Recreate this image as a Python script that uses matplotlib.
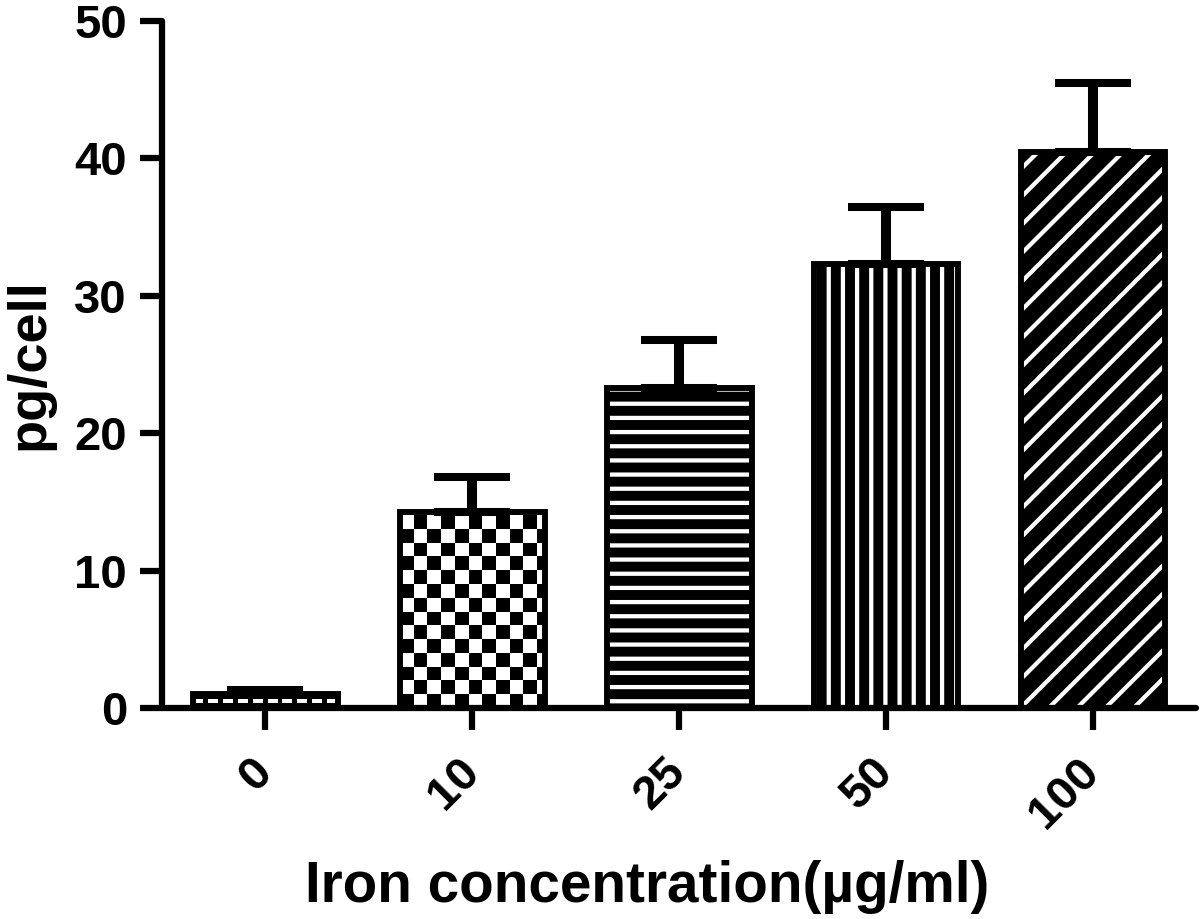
"""
Iron uptake per cell at increasing iron concentrations (bar chart with SEM).
"""

import numpy as np
import matplotlib.pyplot as plt

# Data
concentrations = ["0", "10", "25", "50", "100"]
pg_per_cell = [1.0, 14.3, 23.3, 32.3, 40.5]
sem_upper = [0.3, 2.5, 3.5, 4.2, 5.0]
y_ticks = [0, 10, 20, 30, 40, 50]

# Fill pattern for every bar ("checker" and "dashes" are drawn as images)
hatches = ["dashes", "checker", "-", "|", "/"]

DPI = 85
plt.rcParams["font.family"] = ["Liberation Sans", "DejaVu Sans"]
plt.rcParams["font.weight"] = "bold"
plt.rcParams["hatch.linewidth"] = 3.6

fig = plt.figure(figsize=(1200 / DPI, 919 / DPI), dpi=DPI)
ax = fig.add_axes([0.135, 0.2296, 0.862, 0.7475])

x = np.arange(len(concentrations))
width = 0.7

# Black bars with white hatch lines (hatch takes the edge colour)
bars = ax.bar(x, pg_per_cell, width=width, color="black", edgecolor="white",
              linewidth=0, zorder=2)

for bar, hatch in zip(bars, hatches):
    x0, w, h = bar.get_x(), bar.get_width(), bar.get_height()
    if hatch == "checker":
        # black/white squares
        cell_w, cell_h = 0.0662, 1.0
        nx, ny = int(np.ceil(w / cell_w)), int(np.ceil(h / cell_h))
        board = np.indices((ny, nx)).sum(axis=0) % 2
        extent = (x0, x0 + nx * cell_w, 0, ny * cell_h)
    elif hatch == "dashes":
        # single white dashed line through a black bar
        cell_w = 0.024
        nx = int(np.ceil(w / cell_w))
        board = np.zeros((3, nx))
        board[1] = np.arange(nx) % 3 != 2
        extent = (x0, x0 + nx * cell_w, 0, h)
    else:
        bar.set_hatch(hatch)
        continue
    im = ax.imshow(board, cmap="gray", vmin=0, vmax=1, interpolation="nearest",
                   origin="lower", extent=extent, aspect="auto", zorder=2.5)
    im.set_clip_path(bar)

# Bar outlines
ax.bar(x, pg_per_cell, width=width, facecolor="none", edgecolor="black",
       linewidth=5, zorder=3)

# Upper error bars only
ax.errorbar(x, pg_per_cell, yerr=[np.zeros(len(x)), sem_upper], fmt="none",
            ecolor="black", elinewidth=8.5, capsize=32, capthick=6.8, zorder=2.8)

ax.set_xlim(-0.5, 4.5)
ax.set_ylim(0, 50)
ax.set_yticks(y_ticks)
ax.set_xticks(x)
ax.set_xticklabels(concentrations, rotation=45, ha="right", va="center",
                   rotation_mode="anchor")

for side in ["top", "right"]:
    ax.spines[side].set_visible(False)
for side in ["left", "bottom"]:
    ax.spines[side].set_linewidth(5.3)
    ax.spines[side].set_capstyle("round")

ax.tick_params(axis="both", length=18.6, width=5.3, labelsize=40)
ax.tick_params(axis="y", pad=11)
ax.tick_params(axis="x", pad=30)

ax.set_xlabel("Iron concentration(µg/ml)", fontsize=48, fontweight="bold")
ax.xaxis.set_label_coords(0.469, -0.221)
ax.set_ylabel("pg/cell", fontsize=46, fontweight="bold")
ax.yaxis.set_label_coords(-0.1035, 0.5)

fig.savefig("out.png", dpi=DPI)
plt.close(fig)
